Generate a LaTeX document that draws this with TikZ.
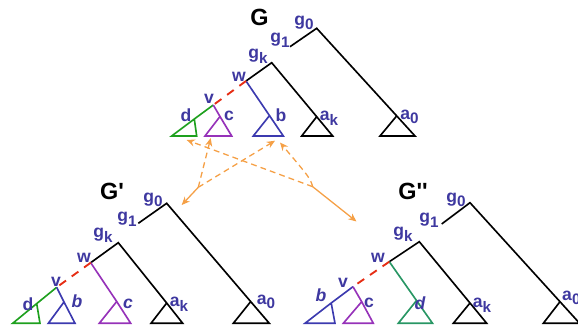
\documentclass[tikz,border=0pt]{standalone}
\usepackage{fontspec}
\setmainfont{Liberation Sans}
\usepackage{tikz}
\usetikzlibrary{arrows.meta}
\definecolor{lblblue}{RGB}{62,56,160}
\definecolor{myblue}{RGB}{60,58,175}
\definecolor{mypurple}{RGB}{150,50,185}
\definecolor{mygreen}{RGB}{30,160,30}
\definecolor{myteal}{RGB}{40,150,100}
\definecolor{myred}{RGB}{230,45,20}
\definecolor{myorange}{RGB}{245,160,70}
\tikzset{
  branch/.style={line width=1.4pt, line join=miter},
  lbl/.style={font=\fontsize{15}{15}\selectfont\bfseries, text=lblblue, inner sep=0pt},
  ilbl/.style={lbl, font=\fontsize{15}{15}\selectfont\bfseries\itshape},
  ttl/.style={font=\fontsize{20}{20}\selectfont\bfseries, inner sep=0pt},
  link/.style={draw=myred, line width=1.6pt, dash pattern=on 7pt off 6pt},
  swap/.style={draw=myorange, line width=1.1pt, dash pattern=on 5pt off 3.5pt, -{Stealth[length=7pt,width=6pt]}},
  push/.style={draw=myorange, line width=1.1pt, -{Stealth[length=7pt,width=6pt]}}
}
\newcommand{\ix}[2]{#1\raisebox{-0.5ex}{\fontsize{13}{13}\selectfont #2}}

\begin{document}
\begin{tikzpicture}[x=0.03cm, y=-0.03cm]
\useasboundingbox (0,0) rectangle (578,331);
\clip (0,0) rectangle (578,331);

% tree G
\coordinate (G-g0) at (316.7,28.3);
\coordinate (G-g1) at (290,46.7);
\coordinate (G-gk) at (271.7,62.7);
\coordinate (G-w) at (246,81);
\coordinate (G-v) at (213.3,105);
\coordinate (G-a0) at (396.7,115.9);
\coordinate (G-a0l) at (380,136);
\coordinate (G-a0r) at (415,136);
\coordinate (G-ak) at (316.7,116.7);
\coordinate (G-akl) at (301.7,136);
\coordinate (G-akr) at (332.7,136);
\coordinate (G-b) at (269.5,115.6);
\coordinate (G-bl) at (253.3,136);
\coordinate (G-br) at (283.3,136);
\coordinate (G-d) at (194.3,119);
\coordinate (G-dl) at (171.7,136);
\coordinate (G-dr) at (196.7,136);
\coordinate (G-c) at (220,116.5);
\coordinate (G-cl) at (205,136);
\coordinate (G-cr) at (231.7,136);

\draw[branch] (G-g1) -- (G-g0) -- (G-a0) -- (G-a0r) -- (G-a0l) -- (G-a0);
\draw[branch] (G-w) -- (G-gk) -- (G-ak) -- (G-akr) -- (G-akl) -- (G-ak);
\draw[branch, myblue] (G-w) -- (G-b) -- (G-br) -- (G-bl) -- (G-b);
\draw[link] (G-w) -- (G-v);
\draw[branch, mygreen] (G-v) -- (G-d) -- (G-dl) -- (G-dr) -- (G-d);
\draw[branch, mypurple] (G-v) -- (G-c) -- (G-cr) -- (G-cl) -- (G-c);

\node[ttl] (G-name) at (259.5,17.5) {G};
\node[lbl] (G-lg0) at (304,23) {\ix{g}{0}};
\node[lbl] (G-lg1) at (280,40) {\ix{g}{1}};
\node[lbl] (G-lgk) at (258,56) {\ix{g}{k}};
\node[lbl] (G-lw) at (239,77) {w};
\node[lbl] (G-lv) at (209,99) {v};
\node[lbl] (G-ld) at (186,115) {d};
\node[lbl] (G-lc) at (229,116) {c};
\node[lbl] (G-lb) at (281,115) {b};
\node[lbl] (G-lak) at (329,118) {\ix{a}{k}};
\node[lbl] (G-la0) at (409.5,117) {\ix{a}{0}};

% tree G'
\coordinate (P-g0) at (166.7,203.3);
\coordinate (P-g1) at (138.3,223.3);
\coordinate (P-gk) at (118.3,242.7);
\coordinate (P-w) at (90.7,262.7);
\coordinate (P-v) at (56.7,287.3);
\coordinate (P-a0) at (250.7,301.6);
\coordinate (P-a0l) at (233.3,323.3);
\coordinate (P-a0r) at (269.3,323.3);
\coordinate (P-ak) at (166.7,303);
\coordinate (P-akl) at (151,323.3);
\coordinate (P-akr) at (182.7,323.3);
\coordinate (P-c) at (116.7,301.5);
\coordinate (P-cl) at (99.3,323.3);
\coordinate (P-cr) at (130.7,323.3);
\coordinate (P-d) at (36.7,303.6);
\coordinate (P-dl) at (12.7,323.3);
\coordinate (P-dr) at (40,323.3);
\coordinate (P-b) at (64,302);
\coordinate (P-bl) at (48.3,323.3);
\coordinate (P-br) at (75,323.3);

\draw[branch] (P-g1) -- (P-g0) -- (P-a0) -- (P-a0r) -- (P-a0l) -- (P-a0);
\draw[branch] (P-w) -- (P-gk) -- (P-ak) -- (P-akr) -- (P-akl) -- (P-ak);
\draw[branch, mypurple] (P-w) -- (P-c) -- (P-cr) -- (P-cl) -- (P-c);
\draw[link] (P-w) -- (P-v);
\draw[branch, mygreen] (P-v) -- (P-d) -- (P-dl) -- (P-dr) -- (P-d);
\draw[branch, myblue] (P-v) -- (P-b) -- (P-br) -- (P-bl) -- (P-b);

\node[ttl] (P-name) at (112,191) {G\textquotesingle};
\node[lbl] (P-lg0) at (153,200) {\ix{g}{0}};
\node[lbl] (P-lg1) at (127,219) {\ix{g}{1}};
\node[lbl] (P-lgk) at (103,235) {\ix{g}{k}};
\node[lbl] (P-lw) at (84,258) {w};
\node[lbl] (P-lv) at (56,282) {v};
\node[lbl] (P-ld) at (28,304) {d};
\node[ilbl] (P-lb) at (77,301) {b};
\node[ilbl] (P-lc) at (128,304) {c};
\node[lbl] (P-lak) at (179,304) {\ix{a}{k}};
\node[lbl] (P-la0) at (266,302) {\ix{a}{0}};

% tree G''
\coordinate (Q-g0) at (470,202.7);
\coordinate (Q-g1) at (441.7,224);
\coordinate (Q-gk) at (419.3,241.7);
\coordinate (Q-w) at (389.3,261.7);
\coordinate (Q-v) at (353,286.7);
\coordinate (Q-a0) at (560,301.7);
\coordinate (Q-a0l) at (543.3,323.3);
\coordinate (Q-a0r) at (579.6,323.3);
\coordinate (Q-ak) at (470,303);
\coordinate (Q-akl) at (453.3,323.3);
\coordinate (Q-akr) at (486.7,323.3);
\coordinate (Q-d) at (416.5,300.5);
\coordinate (Q-dl) at (398.3,323.3);
\coordinate (Q-dr) at (432.5,323.3);
\coordinate (Q-b) at (331.2,303);
\coordinate (Q-bl) at (305,323.3);
\coordinate (Q-br) at (335,323.3);
\coordinate (Q-c) at (361.7,301.7);
\coordinate (Q-cl) at (343.3,323.3);
\coordinate (Q-cr) at (373.3,323.3);

\draw[branch] (Q-g1) -- (Q-g0) -- (Q-a0) -- (Q-a0r) -- (Q-a0l) -- (Q-a0);
\draw[branch] (Q-w) -- (Q-gk) -- (Q-ak) -- (Q-akr) -- (Q-akl) -- (Q-ak);
\draw[branch, myteal] (Q-w) -- (Q-d) -- (Q-dr) -- (Q-dl) -- (Q-d);
\draw[link] (Q-w) -- (Q-v);
\draw[branch, myblue] (Q-v) -- (Q-b) -- (Q-bl) -- (Q-br) -- (Q-b);
\draw[branch, mypurple] (Q-v) -- (Q-c) -- (Q-cr) -- (Q-cl) -- (Q-c);

\node[ttl] (Q-name) at (413,191) {G\textquotesingle\textquotesingle};
\node[lbl] (Q-lg0) at (456,200) {\ix{g}{0}};
\node[lbl] (Q-lg1) at (429,220) {\ix{g}{1}};
\node[lbl] (Q-lgk) at (403,234) {\ix{g}{k}};
\node[lbl] (Q-lw) at (378,258) {w};
\node[lbl] (Q-lv) at (343,283) {v};
\node[ilbl] (Q-lb) at (321,295) {b};
\node[lbl] (Q-lc) at (369,303) {c};
\node[ilbl] (Q-ld) at (420,303) {d};
\node[lbl] (Q-lak) at (482,305) {\ix{a}{k}};
\node[lbl, anchor=west] (Q-la0) at (562,298) {\ix{a}{0}};

% swap arrows
\coordinate (J1) at (198.3,187.3);
\coordinate (J2) at (312.7,186.7);
\coordinate (G-ctip) at (210.7,138);
\coordinate (G-btip) at (275,140.7);
\coordinate (G-dtip) at (186.7,140);
\coordinate (G-btip2) at (280,142.5);
\coordinate (P-top) at (181.7,205);
\coordinate (Q-top) at (356.5,221.5);
\draw[swap] (J1) -- (G-ctip);
\draw[swap] (J1) -- (G-btip);
\draw[push] (J1) -- (P-top);
\draw[swap] (J2) -- (G-dtip);
\draw[swap] (J2) .. controls (310,178) .. (G-btip2);
\draw[push] (J2) -- (Q-top);
\end{tikzpicture}
\end{document}
